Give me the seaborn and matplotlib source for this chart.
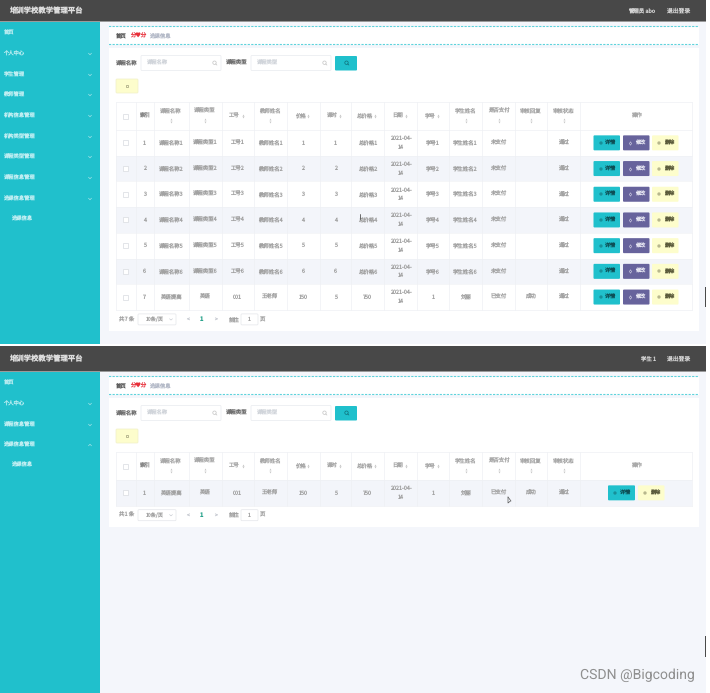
import numpy as np
import matplotlib
matplotlib.use("Agg")
import matplotlib.pyplot as plt
from matplotlib.colors import ListedColormap
from matplotlib.patches import Rectangle, FancyBboxPatch, Circle
import seaborn as sns

W, H = 710, 693

# table text, one list per column
course_names = ["课程名称1", "课程名称2", "课程名称3", "课程名称4", "课程名称5", "课程名称6", "英语提高"]
course_types = ["课程类型1", "课程类型2", "课程类型3", "课程类型4", "课程类型5", "课程类型6", "英语"]
job_numbers = ["工号1", "工号2", "工号3", "工号4", "工号5", "工号6", "001"]
teachers = ["教师姓名1", "教师姓名2", "教师姓名3", "教师姓名4", "教师姓名5", "教师姓名6", "王老师"]
prices = ["1", "2", "3", "4", "5", "6", "150"]
hours = ["1", "2", "3", "4", "5", "6", "5"]
totals = ["总价格1", "总价格2", "总价格3", "总价格4", "总价格5", "总价格6", "750"]
dates = ["2021-04-\n14"] * 7
student_ids = ["学号1", "学号2", "学号3", "学号4", "学号5", "学号6", "1"]
students = ["学生姓名1", "学生姓名2", "学生姓名3", "学生姓名4", "学生姓名5", "学生姓名6", "刘丽"]
paid = ["未支付", "未支付", "未支付", "未支付", "未支付", "未支付", "已支付"]
replies = ["", "", "", "", "", "", "成功"]
states = ["通过", "通过", "通过", "通过", "通过", "通过", "通过"]
row_numbers = ["1", "2", "3", "4", "5", "6", "7"]
columns = [row_numbers, course_names, course_types, job_numbers, teachers, prices, hours,
           totals, dates, student_ids, students, paid, replies, states]

headers = ["索引", "课程名称", "课程类型", "工号", "教师姓名", "价格", "课时", "总价格",
           "日期", "学号", "学生姓名", "是否支付", "审核回复", "审核状态"]
header_sort = ["", "below", "below", "inline", "below", "inline", "inline", "inline",
               "inline", "inline", "below", "below", "below", "below"]
col_edges = [116, 135.5, 153.5, 188.5, 221.5, 253.5, 286.5, 319.5, 351, 384, 417, 449, 482, 515, 547, 580, 692]

menu_admin = ["首页", "个人中心", "学生管理", "教师管理", "机构信息管理", "机构类型管理",
              "课程类型管理", "课程信息管理", "选课信息管理"]
menu_student = ["首页", "个人中心", "课程信息管理", "选课信息管理"]

TEAL = "#20c0cc"
PURPLE = "#67639c"
YELLOW = "#fdfdcc"
DARK = "#484848"
BG = "#f4f6fb"
STRIPE = "#f3f5fa"
LINE = "#eef0f4"
TXT = "#a2a2a2"
MENU_TXT = "#bfeef2"

sns.set_theme(style="white")
plt.rcParams["font.family"] = ["Noto Sans CJK SC", "DejaVu Sans"]
plt.rcParams["text.hinting"] = "no_hinting"
plt.rcParams["text.hinting_factor"] = 1

fig = plt.figure(figsize=(W / 100, H / 100), dpi=100, facecolor="white")
back = fig.add_axes([0, 0, 1, 1], zorder=0)
ax = fig.add_axes([0, 0, 1, 1], zorder=2)
for a in (back, ax):
    a.set_xlim(0, W)
    a.set_ylim(H, 0)
    a.axis("off")
ax.patch.set_alpha(0)


def box(a, x0, y0, x1, y1, color, edge="none", lw=0.5, z=1):
    a.add_patch(Rectangle((x0, y0), x1 - x0, y1 - y0, facecolor=color, edgecolor=edge, linewidth=lw, zorder=z))


def rbox(x0, y0, x1, y1, color, edge="none", lw=0.5, z=3):
    ax.add_patch(FancyBboxPatch((x0 + 1, y0 + 1), x1 - x0 - 2, y1 - y0 - 2, boxstyle="round,pad=1",
                                facecolor=color, edgecolor=edge, linewidth=lw, zorder=z))


def label(x, y, s, size=3.9, color=TXT, ha="center", weight="normal", family=None):
    ax.text(x, y, s, fontsize=size, color=color, ha=ha, va="center", fontweight=weight,
            linespacing=1.6, family=family or ["Noto Sans CJK SC", "DejaVu Sans"], zorder=5)


def sort_mark(x, y):
    ax.plot([x], [y - 1.1], marker="^", ms=1.4, color="#c4c4c4", mew=0, zorder=5)
    ax.plot([x], [y + 1.1], marker="v", ms=1.4, color="#c4c4c4", mew=0, zorder=5)


def search_icon(x, y, color="#c4c4c4"):
    ax.add_patch(Circle((x, y), 1.7, facecolor="none", edgecolor=color, linewidth=0.5, zorder=5))
    ax.plot([x + 1.2, x + 2.4], [y + 1.2, y + 2.4], color=color, lw=0.5, zorder=5)


def action_button(x0, x1, yc, color, text, text_color, marker):
    rbox(x0, yc - 7.5, x1, yc + 7.5, color)
    ax.plot([x0 + 7], [yc], marker=marker, ms=1.8, mfc="none", mec=text_color, mew=0.35, zorder=5)
    label(x0 + 17, yc, text, size=3.7, color=text_color)


def draw_panel(top, bottom, menu, menu_ys, user, user_x, rows, stripes, total, with_edit):
    # top bar
    head_top = top
    head_bot = top + 22 if top == 0 else top + 26
    box(back, 0, head_top, 706, head_bot, DARK, z=2)
    box(back, 0, head_bot - 0.6, 706, head_bot + 0.4, "#9a9a9a", z=2)
    off = 0 if top == 0 else 350
    label(9, (head_top + head_bot) / 2, "培训学校教学管理平台", size=5.3, color="#dddddd", ha="left", weight="bold")
    label(user_x, (head_top + head_bot) / 2, user, size=3.9, color="#d4d4d4", ha="left")
    label(667, (head_top + head_bot) / 2, "退出登录", size=4.2, color="#d4d4d4", ha="left")

    # side menu
    box(back, 0, head_bot, 100, bottom, TEAL, z=2)
    box(back, 100, head_bot, 706, bottom, BG, z=1)
    for name, y in zip(menu, menu_ys):
        label(3.5, y, name, size=3.8, color=MENU_TXT, ha="left")
        if name != "首页":
            up = name == "选课信息管理" and top != 0
            dy = -0.8 if up else 0.8
            ax.plot([88.5, 90, 91.5], [y - dy, y + dy, y - dy], color="#9fe3e8", lw=0.5, zorder=5)
    label(11, menu_ys[-1] + 20, "选课信息", size=3.8, color=MENU_TXT, ha="left")

    # breadcrumb
    box(back, 109, 26.5 + off, 699, 44.5 + off, "white", z=2)
    for y in (26.5 + off, 44.5 + off):
        ax.plot([109, 699], [y, y], color="#5fd3dc", lw=0.8, ls=(0, (2, 1.2)), zorder=4, snap=False)
    label(116, 35.5 + off, "首页", size=3.9, color="#555555", ha="left")
    label(130, 35.5 + off, "分♥分", size=3.9, color="#e8303a", ha="left")
    label(149, 35.5 + off, "选课信息", size=3.9, color="#b4bac8", ha="left")

    # card with search row
    body_top = 130 + off
    row_h = 25.7
    body_bot = body_top + row_h * len(rows[0])
    box(back, 109, 48 + off, 699, body_bot + 21.5, "white", z=2)
    for x0, text in ((116, "课程名称"), (226, "课程类型")):
        label(x0, 63 + off, text, size=3.9, color="#707070", ha="left")
    for x0, x1, text in ((141, 221, "课程名称"), (251, 331, "课程类型")):
        rbox(x0, 55.5 + off, x1, 70.5 + off, "white", edge="#e8eaee")
        label(x0 + 6, 63 + off, text, size=3.8, color="#d0d4da", ha="left")
        search_icon(x1 - 6.5, 62.7 + off)
    rbox(335, 56 + off, 357, 70.5 + off, TEAL)
    search_icon(346.5, 62.7 + off, color="#0f6f78")
    rbox(116, 79 + off, 138, 93 + off, YELLOW, edge="#f0f0c8")
    ax.plot([126.5], [86 + off], marker="s", ms=2, mfc="none", mec="#888866", mew=0.4, zorder=5)

    # striped rows through a heatmap sitting under the text
    stripe_ax = fig.add_axes([col_edges[0] / W, 1 - body_bot / H, (col_edges[-1] - col_edges[0]) / W,
                              (body_bot - body_top) / H], zorder=1)
    sns.heatmap(np.array(stripes).reshape(-1, 1), ax=stripe_ax, cbar=False, xticklabels=False, yticklabels=False,
                cmap=ListedColormap(["white", STRIPE]), vmin=0, vmax=1)

    # grid lines and header
    head_y0 = 102 + off
    for x in col_edges:
        ax.plot([x, x], [head_y0, body_bot], color=LINE, lw=0.5, zorder=4)
    ax.plot([col_edges[0], col_edges[-1]], [head_y0, head_y0], color=LINE, lw=0.5, zorder=4)
    ax.plot([col_edges[0], col_edges[-1]], [body_top, body_top], color=LINE, lw=0.5, zorder=4)
    ax.plot([col_edges[0], col_edges[-1]], [body_bot, body_bot], color=LINE, lw=0.5, zorder=4)
    head_mid = (head_y0 + body_top) / 2
    box(ax, 122.5, head_mid - 2.5, 127.5, head_mid + 2.5, "white", edge="#d8dbe0", z=5)
    for i, (name, mode) in enumerate(zip(headers, header_sort)):
        xc = (col_edges[i + 1] + col_edges[i + 2]) / 2
        if mode == "below":
            label(xc, head_mid - 5.5, name, color="#a8a8a8")
            sort_mark(xc, head_mid + 4.5)
        elif mode == "inline":
            shift = len(name) * 2.6
            label(xc - 3, head_mid, name, color="#a8a8a8")
            sort_mark(xc + shift, head_mid)
        else:
            label(xc, head_mid, name, color="#888888")
    label((col_edges[-2] + col_edges[-1]) / 2, head_mid, "操作", color="#a8a8a8")

    # body rows
    for r in range(len(rows[0])):
        yc = body_top + row_h * (r + 0.5)
        box(ax, 122.5, yc - 2.5, 127.5, yc + 2.5, "white", edge="#d8dbe0", z=5)
        if r > 0:
            ax.plot([col_edges[0], col_edges[-1]], [yc - row_h / 2] * 2, color=LINE, lw=0.4, zorder=4)
        for c, values in enumerate(rows):
            xc = (col_edges[c + 1] + col_edges[c + 2]) / 2
            label(xc, yc, values[r])
        if with_edit:
            action_button(593.5, 620, yc, TEAL, "详情", "#0d4f56", "s")
            action_button(623, 649.5, yc, PURPLE, "修改", "#e6e6f2", "d")
            action_button(652, 678.5, yc, YELLOW, "删除", "#5a5a3a", "s")
        else:
            action_button(608, 635, yc, TEAL, "详情", "#0d4f56", "s")
            action_button(638, 664.5, yc, YELLOW, "删除", "#5a5a3a", "s")

    # pager
    py = body_bot + 9.5
    label(118, py, "共 " + total + " 条", size=3.9, ha="left")
    rbox(138, py - 5.5, 176, py + 5.5, "white", edge="#e4e6ea")
    label(146, py, "10条/页", size=3.7, ha="left")
    ax.plot([169.5, 171, 172.5], [py - 0.7, py + 0.7, py - 0.7], color="#c0c4cc", lw=0.4, zorder=5)
    label(187, py, "<", size=3.8, color="#c0c4cc")
    label(201, py, "1", size=4.2, color="#2aa38c", weight="bold")
    label(215, py, ">", size=3.8, color="#c0c4cc")
    label(234, py, "前往", size=3.9)
    rbox(241, py - 5.5, 258, py + 5.5, "white", edge="#e4e6ea")
    label(249.5, py, "1", size=3.7)
    label(262, py, "页", size=3.9)


# first screenshot: admin view
draw_panel(0, 344, menu_admin, [33, 54, 75, 95, 116, 137, 157, 178, 199], "管理员 abo", 628,
           columns, [0, 1, 0, 1, 0, 1, 0], "7", True)

# second screenshot: student view, only the last record
draw_panel(346, 693, menu_student, [383, 404, 425, 445], "学生 1", 641,
           [c[-1:] if c is not row_numbers else ["1"] for c in columns], [1], "1", False)

# leftovers in the screenshots
ax.plot([359.5, 359.5], [214, 219], color="#555555", lw=0.6, zorder=6)
ax.plot([508, 508, 510.5], [497, 503, 501], color="#555555", lw=0.5, zorder=6)
ax.plot([508, 511], [497, 501], color="#555555", lw=0.5, zorder=6)
box(ax, 704.5, 287, 706, 307, "#4a4a4a", z=6)
box(ax, 704.5, 636, 706, 657, "#4a4a4a", z=6)
ax.text(695, 675.5, "CSDN @Bigcoding", fontsize=10.4, color="#8f8f8f", ha="right", va="center", family="Roboto", zorder=6)

fig.savefig("out.png", dpi=100)
